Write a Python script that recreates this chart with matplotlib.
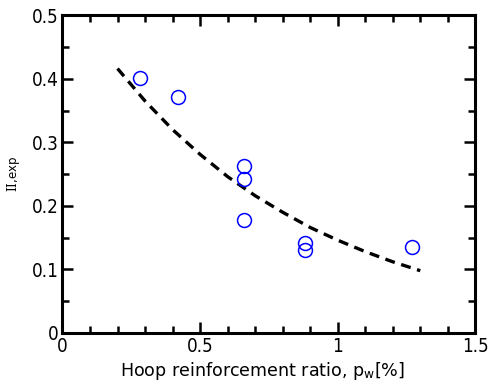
import matplotlib
matplotlib.use("Agg")
import matplotlib.pyplot as plt
from matplotlib.ticker import MultipleLocator

plt.rcParams["mathtext.fontset"] = "dejavuserif"

# measured points (hoop ratio %, ratio)
pw = [0.28, 0.42, 0.66, 0.66, 0.66, 0.88, 0.88, 1.27]
ratio = [0.401, 0.372, 0.263, 0.243, 0.177, 0.141, 0.130, 0.136]

# dashed fit curve
fit_x = [0.2, 0.3, 0.4, 0.5, 0.6, 0.7, 0.8, 0.9, 1.0, 1.1, 1.2, 1.3]
fit_y = [0.416, 0.365, 0.320, 0.281, 0.246, 0.216, 0.190, 0.166, 0.146, 0.128, 0.112, 0.098]

fig = plt.figure(figsize=(4.88, 3.89), dpi=100)
ax = fig.add_axes([0.128, 0.144, 0.846, 0.817])

ax.plot(fit_x, fit_y, color="black", lw=2.4, ls=(0, (3, 2)))
ax.plot(pw, ratio, ls="none", marker="o", ms=10, mfc="none", mec="blue", mew=1.1)

ax.set_xlim(0, 1.5)
ax.set_ylim(0, 0.5)
ax.xaxis.set_minor_locator(MultipleLocator(0.1))
ax.yaxis.set_minor_locator(MultipleLocator(0.05))
ax.set_xticks([0, 0.5, 1, 1.5], ["0", "0.5", "1", "1.5"])
ax.set_yticks([0, 0.1, 0.2, 0.3, 0.4, 0.5], ["0", "0.1", "0.2", "0.3", "0.4", "0.5"])
for lab in ax.get_xticklabels() + ax.get_yticklabels():
    lab.set_fontstretch("condensed")
    lab.set_fontsize(13.5)

for s in ax.spines.values():
    s.set_linewidth(2.2)
ax.tick_params(which="both", direction="in", top=True, right=True, width=1.8)
ax.tick_params(which="major", length=8, pad=3)
ax.tick_params(which="minor", length=5)

ax.set_xlabel("Hoop reinforcement ratio, p$_\\mathregular{w}$[%]", fontsize=12.6)
ax.xaxis.set_label_coords(0.484, -0.085)
ax.set_ylabel("$\\mathrm{II}$,exp", fontsize=8.5)
ax.yaxis.set_label_coords(-0.098, 0.5)

fig.savefig("out.png", dpi=100)
